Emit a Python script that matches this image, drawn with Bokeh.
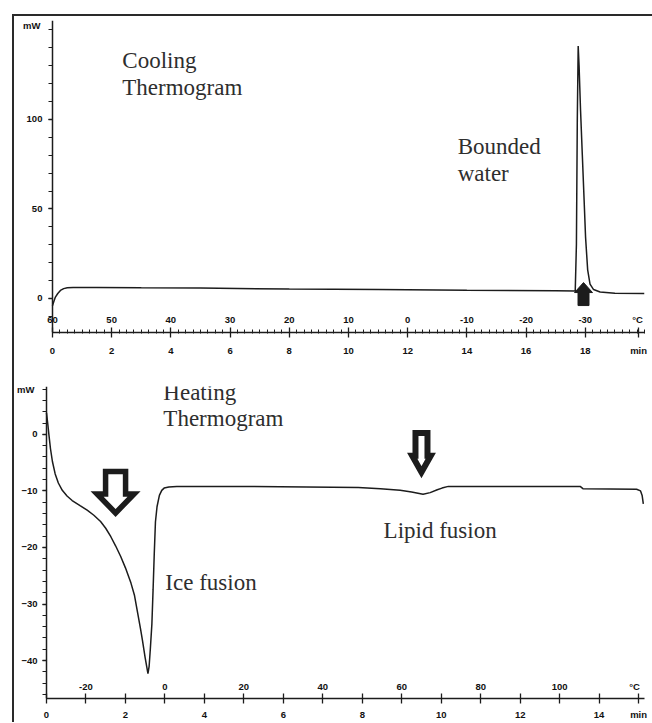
from bokeh.plotting import figure
from bokeh.models import ColumnDataSource, Range1d, FixedTicker, LabelSet, Label, Div, Spacer
from bokeh.layouts import column, row
from bokeh.embed import file_html
from bokeh.resources import INLINE
from bokeh.core.properties import value

# ---------------- data ----------------
# Cooling thermogram: heat flow (mW) vs time (min); 60 °C start, -5 °C/min
cool_time = [0.00, 0.05, 0.10, 0.18, 0.27, 0.38, 0.50, 0.70, 1.5, 3.0, 5.0, 8.0, 11.0, 14.0,
             17.0, 17.66, 17.70, 17.73, 17.76, 17.79, 17.84, 17.90, 17.96, 18.01, 18.08,
             18.16, 18.28, 18.5, 19.0, 20.0]
cool_mw = [-4.0, -1.5, 0.8, 2.8, 4.5, 5.5, 6.0, 6.2, 6.2, 6.0, 5.8, 5.3, 5.0, 4.6,
           4.3, 4.2, 30.0, 100.0, 141.0, 130.0, 105.0, 80.0, 55.0, 34.0, 16.0,
           8.0, 5.0, 3.6, 2.9, 2.8]
cool_start_temp = 60.0
cool_rate = -5.0
cool_time_ticks = [0, 2, 4, 6, 8, 10, 12, 14, 16, 18]
cool_temp_ticks = [60, 50, 40, 30, 20, 10, 0, -10, -20, -30]
cool_mw_ticks = [0, 50, 100]
cool_unit_tick = 19.8          # where the "min" unit label sits on the time axis

# Heating thermogram: -30 °C start, +10 °C/min
heat_time = [0.00, 0.03, 0.06, 0.10, 0.15, 0.22, 0.30, 0.40, 0.52, 0.65, 0.85, 1.03, 1.20,
             1.37, 1.50, 1.63, 1.75, 1.88, 2.00, 2.14, 2.23, 2.31, 2.38, 2.43, 2.50, 2.54,
             2.57, 2.60, 2.63, 2.67, 2.70, 2.73, 2.76, 2.80, 2.86, 2.92, 2.98, 3.10, 3.3,
             5.0, 7.9, 8.46, 8.96, 9.25, 9.54, 9.72, 9.90, 10.02, 10.18, 12.0, 13.52,
             13.59, 14.95, 15.05, 15.09, 15.12]
heat_mw = [3.8, 2.0, 0.0, -2.5, -4.8, -7.0, -8.6, -9.9, -10.9, -11.7, -12.6, -13.4, -14.3,
           -15.4, -16.6, -18.1, -19.7, -21.6, -23.6, -26.3, -28.5, -31.6, -34.3, -36.4, -39.5, -41.1,
           -42.3, -41.0, -38.0, -33.5, -27.5, -21.1, -15.5, -12.8, -10.8, -9.9, -9.5, -9.3, -9.2,
           -9.2, -9.4, -9.6, -9.9, -10.2, -10.6, -10.3, -9.8, -9.5, -9.2, -9.2, -9.2,
           -9.6, -9.7, -10.0, -10.8, -12.3]
heat_start_temp = -30.0
heat_rate = 10.0
heat_time_ticks = [0, 2, 4, 6, 8, 10, 12, 14]
heat_temp_ticks = [-20, 0, 20, 40, 60, 80, 100]
heat_mw_ticks = [0, -10, -20, -30, -40]
heat_unit_tick = 15

# ---------------- style / layout ----------------
W = 638
INK = "#1c1c1c"
TXT = "#2e2e2e"
BORDER = "#2a2a2a"
SERIF = "Liberation Serif"
TICKF = "Liberation Sans"
TICKSIZE = "9.5px"

# top panel: figure height and borders (left, right, top, bottom)
H1, L1, R1, T1, B1 = 352, 0, 7, 4, 36
X1_END = 20.0
PX_PER_MIN1 = 593 / 20.0
ORIGIN_PX1 = 38          # y axis sits this far right of the frame's left edge
Y1 = (-19.0, 155.3)
# bottom panel
H2, L2, R2, T2, B2 = 354, 0, 8, 18, 23
X2_END = 15.15
PX_PER_MIN2 = 598 / 15.15
ORIGIN_PX2 = 32
Y2 = (-46.7, 8.46)

X1 = (-ORIGIN_PX1 / PX_PER_MIN1, X1_END)
X2 = (-ORIGIN_PX2 / PX_PER_MIN2, X2_END)


def make_fig(h, l, r, t, b, xr, yr):
    p = figure(width=W, height=h, output_backend="svg", toolbar_location=None,
               x_range=Range1d(*xr), y_range=Range1d(*yr),
               min_border_left=l, min_border_right=r, min_border_top=t, min_border_bottom=b)
    p.grid.visible = False
    p.outline_line_color = None
    for ax in (p.xaxis[0], p.yaxis[0]):
        ax.axis_line_color = INK
        ax.axis_line_width = 1.5
        ax.major_tick_line_color = INK
        ax.minor_tick_line_color = INK
        ax.major_tick_line_width = 1.3
        ax.minor_tick_line_width = 1.0
        ax.major_label_text_font = TICKF
        ax.major_label_text_font_style = "bold"
        ax.major_label_text_font_size = TICKSIZE
        ax.major_label_text_color = "#111111"
    p.yaxis.fixed_location = 0
    p.xaxis.bounds = (0, xr[1])
    return p


def scale(h, l, r, t, b, xr, yr):
    fw = W - l - r
    fh = h - t - b
    return fw / (xr[1] - xr[0]), fh / (yr[1] - yr[0])


def block_arrow(p, tip_x, tip_y, sx, sy, hw, sw, hh, tot, down=True, fill="white", lw=5):
    s = 1 if down else -1
    px = [0, -hw, -sw, -sw, sw, sw, hw]
    py = [0, hh, hh, tot, tot, hh, hh]
    xs = [tip_x + a / sx for a in px]
    ys = [tip_y + s * b / sy for b in py]
    p.patch(xs, ys, fill_color=fill, line_color=INK, line_width=lw, line_join="miter")


def serif_label(p, x, y, text):
    p.add_layout(Label(x=x, y=y, text=text, text_font=SERIF, text_font_size="23px",
                       text_color=TXT, text_baseline="middle", text_align="left"))


def small_label(p, x, y, text, x_offset=0, align="center"):
    p.add_layout(Label(x=x, y=y, text=text, x_offset=x_offset, text_font=TICKF,
                       text_font_style="bold", text_font_size=TICKSIZE, text_color="#111111",
                       text_baseline="middle", text_align=align))


# ---------------- top: cooling ----------------
p1 = make_fig(H1, L1, R1, T1, B1, X1, Y1)
sx1, sy1 = scale(H1, L1, R1, T1, B1, X1, Y1)

p1.xaxis.ticker = FixedTicker(ticks=cool_time_ticks + [cool_unit_tick],
                              minor_ticks=[i * 0.25 for i in range(0, 81)])
p1.xaxis.major_label_overrides = {cool_unit_tick: "min"}
p1.xaxis.major_tick_in = 5
p1.xaxis.major_tick_out = 5
p1.xaxis.minor_tick_in = 3
p1.xaxis.minor_tick_out = 1
p1.xaxis.major_label_standoff = 7
p1.yaxis.ticker = FixedTicker(ticks=cool_mw_ticks, minor_ticks=list(range(-10, 160, 10)))
p1.yaxis.major_tick_in = 0
p1.yaxis.major_tick_out = 4
p1.yaxis.minor_tick_in = 0
p1.yaxis.minor_tick_out = 4
p1.yaxis.major_label_standoff = 6

p1.line(cool_time, cool_mw, line_color=INK, line_width=1.5)

cool_lab_t = [(T - cool_start_temp) / cool_rate for T in cool_temp_ticks]
src1 = ColumnDataSource(dict(t=cool_lab_t, label=[str(T) for T in cool_temp_ticks]))
y_temp1 = Y1[0] + 13 / sy1
p1.add_layout(LabelSet(x="t", y=y_temp1, text="label", source=src1,
                       text_font=value(TICKF), text_font_style="bold", text_font_size=TICKSIZE,
                       text_color="#111111", text_align="center", text_baseline="middle"))
small_label(p1, X1[1], y_temp1, "°C", x_offset=-7)
small_label(p1, 0, Y1[1] - 5 / sy1, "mW", x_offset=-12, align="right")

serif_label(p1, 2.36, 133.0, "Cooling")
serif_label(p1, 2.36, 117.9, "Thermogram")
serif_label(p1, 13.69, 84.9, "Bounded")
serif_label(p1, 13.69, 69.8, "water")

block_arrow(p1, 17.94, 8.9, sx1, sy1, hw=9, sw=5.5, hh=10, tot=23, down=False,
            fill=INK, lw=1)

# ---------------- bottom: heating ----------------
p2 = make_fig(H2, L2, R2, T2, B2, X2, Y2)
sx2, sy2 = scale(H2, L2, R2, T2, B2, X2, Y2)

p2.xaxis.ticker = FixedTicker(ticks=heat_time_ticks + [heat_unit_tick],
                              minor_ticks=[1, 3, 5, 7, 9, 11, 13])
p2.xaxis.major_label_overrides = {heat_unit_tick: "min"}
p2.xaxis.major_tick_in = 5
p2.xaxis.major_tick_out = 5
p2.xaxis.minor_tick_in = 5
p2.xaxis.minor_tick_out = 5
p2.xaxis.minor_tick_line_width = 1.3
p2.xaxis.major_label_standoff = 5
p2.yaxis.ticker = FixedTicker(ticks=heat_mw_ticks, minor_ticks=list(range(-46, 9, 2)))
p2.yaxis.major_tick_in = 0
p2.yaxis.major_tick_out = 4
p2.yaxis.minor_tick_in = 0
p2.yaxis.minor_tick_out = 4
p2.yaxis.major_label_standoff = 5

p2.line(heat_time, heat_mw, line_color=INK, line_width=1.5)

heat_lab_t = [(T - heat_start_temp) / heat_rate for T in heat_temp_ticks]
src2 = ColumnDataSource(dict(t=heat_lab_t, label=[str(T) for T in heat_temp_ticks]))
y_temp2 = Y2[0] + 12 / sy2
p2.add_layout(LabelSet(x="t", y=y_temp2, text="label", source=src2,
                       text_font=value(TICKF), text_font_style="bold", text_font_size=TICKSIZE,
                       text_color="#111111", text_align="center", text_baseline="middle"))
small_label(p2, X2[1], y_temp2, "°C", x_offset=-10)
small_label(p2, 0, Y2[1] - 3 / sy2, "mW", x_offset=-12, align="right")

serif_label(p2, 2.96, 7.40, "Heating")
serif_label(p2, 2.96, 2.82, "Thermogram")
serif_label(p2, 3.01, -26.26, "Ice fusion")
serif_label(p2, 8.54, -16.92, "Lipid fusion")

block_arrow(p2, 1.75, -13.9, sx2, sy2, hw=18.5, sw=10, hh=19, tot=41.5, down=True,
            fill="white", lw=5.5)
block_arrow(p2, 9.50, -6.7, sx2, sy2, hw=9.3, sw=6, hh=16.5, tot=39.5, down=True,
            fill="white", lw=6)

# ---------------- frame lines (left and top border of the scanned figure) ----------------
top_bar = Div(text="", width=640, height=2, margin=0, styles={"background-color": BORDER})
left_bar = Div(text="", width=2, height=706, margin=0, styles={"background-color": BORDER})

layout = column(
    Spacer(width=652, height=14, margin=0),
    row(Spacer(width=12, height=2, margin=0), top_bar, spacing=0),
    row(Spacer(width=12, height=706, margin=0), left_bar, column(p1, p2, spacing=0), spacing=0),
    spacing=0,
)

open("out.html", "w").write(file_html(layout, INLINE))
